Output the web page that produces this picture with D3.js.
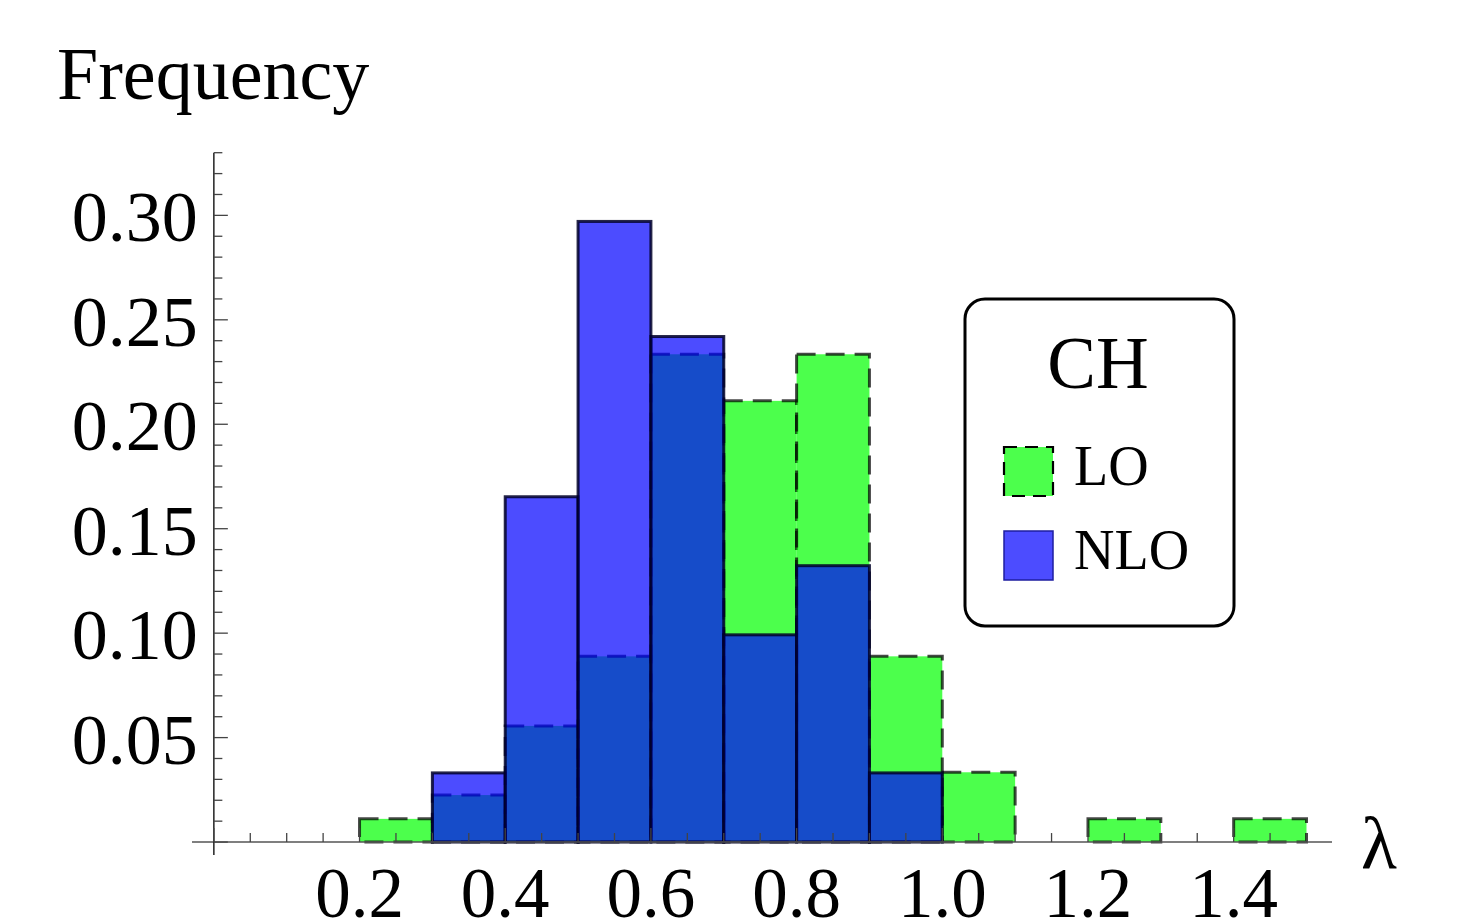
<!DOCTYPE html>
<html><head><meta charset="utf-8">
<script src="https://cdn.jsdelivr.net/npm/d3@7"></script>
<style>html,body{margin:0;padding:0;background:#fff;}svg{display:block;}</style>
</head><body>
<svg id="chart" width="1469" height="918"></svg>
<script>
// ---- data ----
const binWidth = 0.1;
const loBinStarts = [0.2,0.3,0.4,0.5,0.6,0.7,0.8,0.9,1.0,1.1,1.2,1.3,1.4];
const loValues    = [0.0111,0.0225,0.0556,0.0889,0.2335,0.2112,0.2335,0.0889,0.0334,0,0.0111,0,0.0111];
const nloBinStarts = [0.3,0.4,0.5,0.6,0.7,0.8,0.9];
const nloValues    = [0.0331,0.1653,0.2971,0.2420,0.0992,0.1323,0.0331];
const xTickLabels = [0.2,0.4,0.6,0.8,1.0,1.2,1.4];
const yTickLabels = [0.05,0.10,0.15,0.20,0.25,0.30];
const legendTitle = "CH";
const seriesNames = ["LO","NLO"];
const xLabel = "λ", yLabel = "Frequency";

const svg = d3.select("#chart");
const font = "'Liberation Serif','Times New Roman',serif";

const x = d3.scaleLinear().domain([-0.03, 1.535]).range([192, 1332]);
const y = d3.scaleLinear().domain([-0.0062, 0.33]).range([855, 152.7]);

const green = "rgb(0,255,0)", blue = "rgb(0,0,255)";

// LO bars (dashed)
svg.append("g").selectAll("rect").data(loBinStarts.map((s,i)=>({s,v:loValues[i]})).filter(d=>d.v>0))
  .join("rect")
  .attr("x", d=>x(d.s)).attr("width", d=>x(d.s+binWidth)-x(d.s))
  .attr("y", d=>y(d.v)).attr("height", d=>y(0)-y(d.v))
  .attr("fill", green).attr("fill-opacity", 0.7)
  .attr("stroke", "black").attr("stroke-opacity", 0.72).attr("stroke-width", 3)
  .attr("stroke-dasharray", "19,10");

// NLO bars
svg.append("g").selectAll("rect").data(nloBinStarts.map((s,i)=>({s,v:nloValues[i]})))
  .join("rect")
  .attr("x", d=>x(d.s)).attr("width", d=>x(d.s+binWidth)-x(d.s))
  .attr("y", d=>y(d.v)).attr("height", d=>y(0)-y(d.v))
  .attr("fill", blue).attr("fill-opacity", 0.7)
  .attr("stroke", "rgb(0,0,40)").attr("stroke-opacity", 0.85).attr("stroke-width", 3);

// axes lines
const axisG = svg.append("g");
axisG.append("line").attr("x1", x(-0.03)).attr("x2", x(1.535)).attr("y1", y(0)).attr("y2", y(0))
  .attr("stroke", "#555").attr("stroke-width", 1.5);
axisG.append("line").attr("x1", x(0)).attr("x2", x(0)).attr("y1", y(-0.0062)).attr("y2", y(0.33))
  .attr("stroke", "#222").attr("stroke-width", 1.5);

// x ticks
const xTicks = d3.range(0, 31).map(i => i*0.05).filter(v => v <= 1.52);
axisG.selectAll(".xt").data(xTicks).join("line")
  .attr("x1", d=>x(d)).attr("x2", d=>x(d))
  .attr("y1", y(0))
  .attr("y2", d => y(0) - (Math.abs(Math.round(d*5) - d*5) < 1e-6 ? 14 : 9))
  .attr("stroke", "#444").attr("stroke-width", 1.3);

// y ticks
const yTicks = d3.range(0, 34).map(i => i*0.01);
axisG.selectAll(".yt").data(yTicks).join("line")
  .attr("y1", d=>y(d)).attr("y2", d=>y(d))
  .attr("x1", x(0))
  .attr("x2", (d,i) => x(0) + (i % 5 === 0 ? 14 : 8.5))
  .attr("stroke", "#444").attr("stroke-width", 1.3);

// tick labels
svg.append("g").selectAll("text").data(xTickLabels).join("text")
  .attr("x", d=>x(d)).attr("y", 917)
  .attr("text-anchor", "middle")
  .attr("font-family", font).attr("font-size", 71)
  .text(d => d.toFixed(1));

svg.append("g").selectAll("text").data(yTickLabels).join("text")
  .attr("x", x(0) - 16).attr("y", d => y(d) + 26)
  .attr("text-anchor", "end")
  .attr("font-family", font).attr("font-size", 72)
  .text(d => d.toFixed(2));

// axis labels
svg.append("text").attr("x", 57).attr("y", 99)
  .attr("font-family", font).attr("font-size", 74).text(yLabel);
svg.append("text").attr("x", 1361).attr("y", 868)
  .attr("font-family", font).attr("font-size", 74).text(xLabel);

// legend
const lg = svg.append("g");
lg.append("rect").attr("x", 965).attr("y", 299).attr("width", 269).attr("height", 327)
  .attr("rx", 20).attr("ry", 20).attr("fill", "white").attr("stroke", "black").attr("stroke-width", 3);
lg.append("text").attr("x", 1098).attr("y", 388).attr("text-anchor", "middle")
  .attr("font-family", font).attr("font-size", 73).text(legendTitle);
const swColors = [green, blue];
seriesNames.forEach((n, i) => {
  const yy = 447 + i*84;
  const r = lg.append("rect").attr("x", 1004).attr("y", yy).attr("width", 49).attr("height", 49)
    .attr("fill", swColors[i]).attr("fill-opacity", 0.7);
  if (i === 0) r.attr("stroke", "black").attr("stroke-width", 2.2).attr("stroke-dasharray", "13,8");
  else r.attr("stroke", "rgb(30,30,160)").attr("stroke-width", 1.5);
  lg.append("text").attr("x", 1074).attr("y", yy + 38)
    .attr("font-family", font).attr("font-size", 56).text(n);
});
</script>
</body></html>
